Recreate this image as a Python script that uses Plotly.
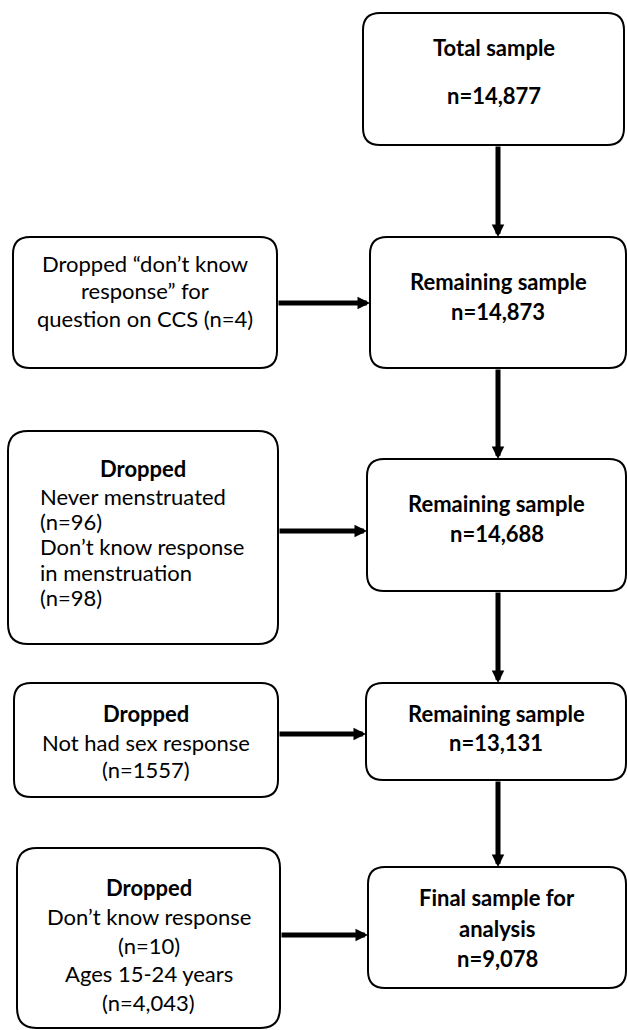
import plotly.graph_objects as go

# ---- content ----
main_titles = ["Total sample", "Remaining sample", "Remaining sample", "Remaining sample", "Final sample for", "analysis"]
main_counts = ["14,877", "14,873", "14,688", "13,131", "9,078"]

drop1_lines = ["Dropped \u201cdon\u2019t know", "response\u201d for", "question on CCS (n=4)"]
drop2_head = "Dropped"
drop2_lines = ["Never menstruated", "(n=96)", "Don\u2019t know response", "in menstruation", "(n=98)"]
drop3_head = "Dropped"
drop3_lines = ["Not had sex response", "(n=1557)"]
drop4_head = "Dropped"
drop4_lines = ["Don\u2019t know response", "(n=10)", "Ages 15-24 years", "(n=4,043)"]

# ---- layout geometry (pixels, y down) ----
right_boxes = [(363, 13, 624, 145), (370, 237, 626, 368), (367, 459, 626, 591),
               (366, 683, 626, 780), (368, 867, 626, 988)]
left_boxes = [(13, 237, 277, 368), (8, 431, 278, 644), (14, 683, 278, 797), (17, 848, 280, 1028)]
h_arrow_y = [303, 531, 734, 935]
v_arrow_x = 498

FONT = "Lato"
FS = 22
W, H = 627, 1030

fig = go.Figure()
fig.add_trace(go.Scatter(x=[0, W], y=[0, H], mode="markers", marker=dict(opacity=0), hoverinfo="skip", showlegend=False))


def rrect(x0, y0, x1, y1, r):
    return (f"M {x0+r},{y0} L {x1-r},{y0} Q {x1},{y0} {x1},{y0+r} L {x1},{y1-r} Q {x1},{y1} {x1-r},{y1} "
            f"L {x0+r},{y1} Q {x0},{y1} {x0},{y1-r} L {x0},{y0+r} Q {x0},{y0} {x0+r},{y0} Z")


shapes = []
for b in right_boxes + left_boxes:
    r = 20 if (b[3] - b[1]) > 150 else 17
    shapes.append(dict(type="path", path=rrect(*b, r), line=dict(color="black", width=2), fillcolor="white", layer="below"))

ann = []


def txt(x, y, s, bold=False, anchor="center"):
    ann.append(dict(x=x, y=y, text=f"<b>{s}</b>" if bold else s, showarrow=False, xanchor=anchor, yanchor="middle",
                    font=dict(family=FONT, size=FS, color="black")))


# right column text
cx = [(b[0] + b[2]) / 2 for b in right_boxes]
txt(cx[0], 47, main_titles[0], True)
txt(cx[0], 95, "n=" + main_counts[0], True)
txt(cx[1], 281, main_titles[1], True)
txt(cx[1], 311, "n=" + main_counts[1], True)
txt(cx[2], 503, main_titles[2], True)
txt(cx[2], 533, "n=" + main_counts[2], True)
txt(cx[3], 713, main_titles[3], True)
txt(cx[3], 742, "n=" + main_counts[3], True)
txt(cx[4], 897, main_titles[4], True)
txt(cx[4], 928, main_titles[5], True)
txt(cx[4], 958, "n=" + main_counts[4], True)

# left column text
lcx = [(b[0] + b[2]) / 2 for b in left_boxes]
for yy, s in zip([263, 290, 318], drop1_lines):
    txt(lcx[0], yy, s)
txt(lcx[1], 468, drop2_head, True)
for yy, s in zip([496, 521, 546, 572, 597], drop2_lines):
    txt(38, yy, s, anchor="left")
txt(lcx[2], 713, drop3_head, True)
for yy, s in zip([742, 769], drop3_lines):
    txt(lcx[2], yy, s)
txt(lcx[3], 887, drop4_head, True)
for yy, s in zip([916, 945, 973, 1002], drop4_lines):
    txt(lcx[3], yy, s)

# arrows
for i in range(len(right_boxes) - 1):
    y_from = right_boxes[i][3]
    y_to = right_boxes[i + 1][1]
    ann.append(dict(x=v_arrow_x, y=y_to, ax=v_arrow_x, ay=y_from, xref="x", yref="y", axref="x", ayref="y",
                    showarrow=True, arrowhead=2, arrowsize=0.5, arrowwidth=5, arrowcolor="black", text="", standoff=0))
for i, yy in enumerate(h_arrow_y):
    ann.append(dict(x=right_boxes[i + 1][0], y=yy, ax=left_boxes[i][2], ay=yy, xref="x", yref="y", axref="x", ayref="y",
                    showarrow=True, arrowhead=2, arrowsize=0.5, arrowwidth=5, arrowcolor="black", text="", standoff=0))

fig.update_layout(
    width=W, height=H, margin=dict(l=0, r=0, t=0, b=0),
    paper_bgcolor="white", plot_bgcolor="white",
    xaxis=dict(range=[0, W], visible=False, fixedrange=True),
    yaxis=dict(range=[H, 0], visible=False, fixedrange=True),
    shapes=shapes, annotations=ann, showlegend=False, hovermode=False,
)
fig.write_html("out.html", config={"displayModeBar": False, "staticPlot": True},
               post_script="document.body.style.margin='0';document.body.style.overflow='hidden';")
